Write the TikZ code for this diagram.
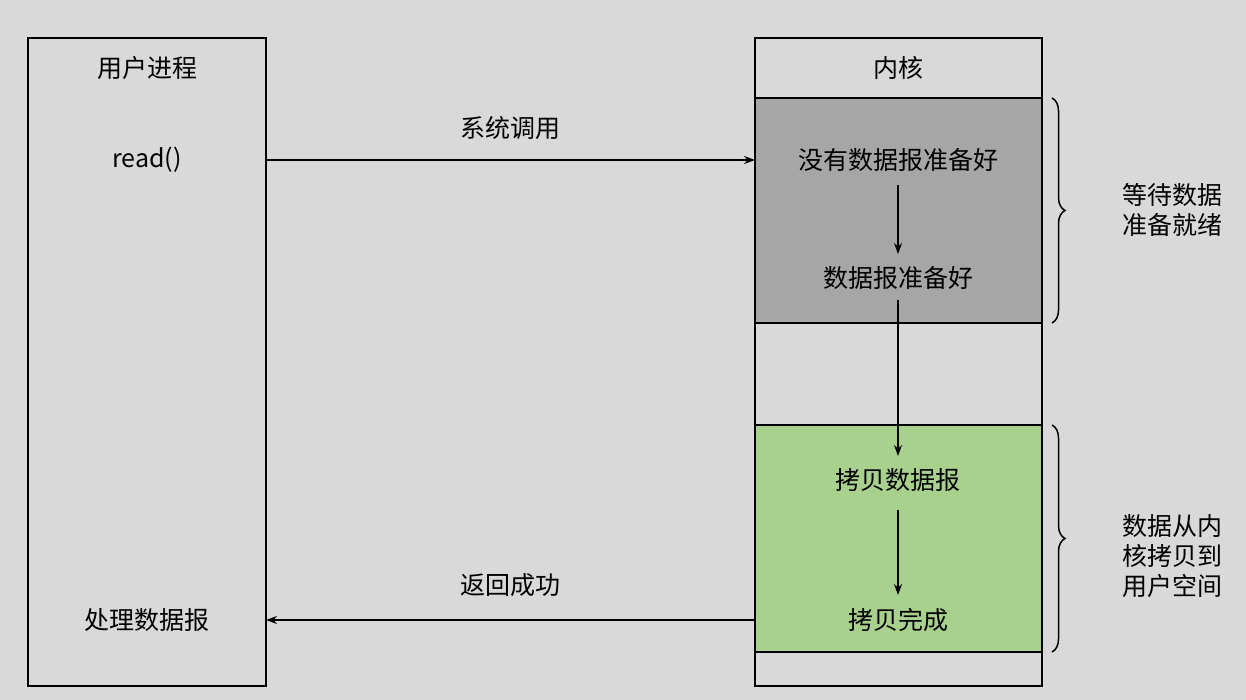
\documentclass[tikz,border=0pt]{standalone}
\usepackage{fontspec}
\setmainfont{Noto Sans CJK SC}
\usetikzlibrary{decorations.pathreplacing,arrows.meta}
\definecolor{bg}{HTML}{D9D9D9}
\definecolor{gr}{HTML}{A6A6A6}
\definecolor{gn}{HTML}{A9D18E}
\begin{document}
\begin{tikzpicture}[x=1pt,y=-1pt,
  t/.style={font=\fontsize{25}{30}\selectfont,inner sep=0pt},
  box/.style={draw=black,line width=1.5pt},
  arr/.style={-{Stealth[length=11pt,width=8pt]},line width=1.5pt},
  br/.style={decorate,decoration={brace,amplitude=13pt},line width=1.5pt}]
\fill[bg] (0,0) rectangle (1246,700);
\useasboundingbox (0,0) rectangle (1246,700);
\fill[gr] (755,98) rectangle (1042,323);
\fill[gn] (755,425) rectangle (1042,652);
\draw[box] (755,98) rectangle (1042,323);
\draw[box] (755,425) rectangle (1042,652);
\draw[box] (28,38) rectangle (266,686);
\draw[box] (755,38) rectangle (1042,686);
\node[t] (u) at (147,68) {用户进程};
\node[t] (rd) at (147,160) {read()};
\node[t] (cl) at (147,620) {处理数据报};
\node[t] (k) at (898,68) {内核};
\node[t] (n1) at (898,160) {没有数据报准备好};
\node[t] (n2) at (898,278) {数据报准备好};
\node[t] (n3) at (898,480) {拷贝数据报};
\node[t] (n4) at (898,620) {拷贝完成};
\coordinate (a1) at (266,160); \coordinate (b1) at (755,160);
\draw[arr] (a1) -- (b1);
\node[t] at (510,128) {系统调用};
\coordinate (a2) at (755,620); \coordinate (b2) at (266,620);
\draw[arr] (a2) -- (b2);
\node[t] at (510,585) {返回成功};
\coordinate (v1) at (898,185); \coordinate (w1) at (898,254);
\coordinate (v2) at (898,300); \coordinate (w2) at (898,456);
\coordinate (v3) at (898,510); \coordinate (w3) at (898,595);
\draw[arr] (v1) -- (w1);
\draw[arr] (v2) -- (w2);
\draw[arr] (v3) -- (w3);
\draw[br] (1052,98) -- (1052,323);
\draw[br] (1052,425) -- (1052,652);
\node[t,align=left] at (1172,210) {等待数据\\准备就绪};
\node[t,align=left] at (1172,556) {数据从内\\核拷贝到\\用户空间};
\end{tikzpicture}
\end{document}
